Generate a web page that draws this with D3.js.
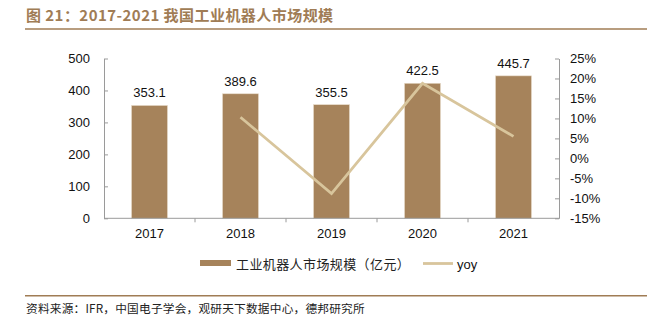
<!DOCTYPE html>
<html><head><meta charset="utf-8">
<script src="https://cdn.jsdelivr.net/npm/d3@7"></script>
<style>
html,body{margin:0;padding:0;background:#fff;}
svg{display:block;font-family:"Liberation Sans",Arial,sans-serif;}
</style></head>
<body>
<svg id="c" width="658" height="326"></svg>
<script>
const years = ["2017","2018","2019","2020","2021"];
const marketSize = [353.1, 389.6, 355.5, 422.5, 445.7];
const yoyYears = ["2018","2019","2020","2021"];
const yoyValues = [10.3, -8.8, 18.8, 5.5];
const leftTicks = [0,100,200,300,400,500];
const rightTicks = [-15,-10,-5,0,5,10,15,20,25];
const titleText = "图 21：2017-2021 我国工业机器人市场规模";
const legendBar = "工业机器人市场规模（亿元）";
const legendLine = "yoy";
const sourceText = "资料来源：IFR，中国电子学会，观研天下数据中心，德邦研究所";

(function(){
const svg = d3.select("#c");
const barColor = "#a6835b", lineColor = "#d8c59c", titleColor = "#a07c55", axisColor = "#9a9a9a";
const pL = 104, pR = 559, pT = 58.5, pB = 218.3;

// title
svg.append("text").attr("x",26).attr("y",21).attr("fill",titleColor)
  .attr("font-family","'Noto Sans CJK SC','Liberation Sans',sans-serif")
  .attr("font-weight","bold").attr("font-size",15).attr("letter-spacing",0.45).text(titleText);
svg.append("line").attr("x1",25).attr("x2",647).attr("y1",29).attr("y2",29)
  .attr("stroke",titleColor).attr("stroke-width",1.6);

const xb = d3.scaleBand().domain(years).range([pL,pR]);
const y = d3.scaleLinear().domain([0,500]).range([pB,pT]);
const y2 = d3.scaleLinear().domain([-15,25]).range([pB,pT]);

// bars
svg.append("g").selectAll("rect").data(marketSize).join("rect")
  .attr("x",(d,i)=>xb(years[i])+xb.bandwidth()/2-18)
  .attr("width",36)
  .attr("y",d=>y(d)).attr("height",d=>pB-y(d))
  .attr("fill",barColor).attr("stroke","#e8dccb").attr("stroke-width",0.6);

// bar labels
svg.append("g").selectAll("text").data(marketSize).join("text")
  .attr("x",(d,i)=>xb(years[i])+xb.bandwidth()/2)
  .attr("y",d=>y(d)-8).attr("text-anchor","middle")
  .attr("font-size",13).attr("fill","#111").text(d=>d.toFixed(1));

// left axis
const gl = svg.append("g").attr("transform",`translate(${pL},0)`)
  .call(d3.axisLeft(y).tickValues(leftTicks).tickSizeInner(-4).tickSizeOuter(0).tickPadding(14));
gl.select(".domain").attr("stroke",axisColor);
gl.selectAll(".tick line").attr("stroke",axisColor);
gl.selectAll("text").attr("font-size",13).attr("fill","#111").attr("font-family","'Liberation Sans',Arial,sans-serif");

// right axis
const gr = svg.append("g").attr("transform",`translate(${pR},0)`)
  .call(d3.axisRight(y2).tickValues(rightTicks).tickFormat(d=>d+"%").tickSizeInner(-4).tickSizeOuter(0).tickPadding(11));
gr.select(".domain").attr("stroke",axisColor);
gr.selectAll(".tick line").attr("stroke",axisColor);
gr.selectAll("text").attr("font-size",13).attr("fill","#111").attr("font-family","'Liberation Sans',Arial,sans-serif");

// bottom axis
svg.append("line").attr("x1",pL).attr("x2",pR).attr("y1",pB).attr("y2",pB).attr("stroke",axisColor);
const bt = years.slice(1).map(yy=>xb(yy));
svg.append("g").selectAll("line").data(bt).join("line")
  .attr("x1",d=>d).attr("x2",d=>d).attr("y1",pB).attr("y2",pB+4).attr("stroke",axisColor);
svg.append("g").selectAll("text").data(years).join("text")
  .attr("x",d=>xb(d)+xb.bandwidth()/2).attr("y",pB+20).attr("text-anchor","middle")
  .attr("font-size",13).attr("fill","#111").text(d=>d);

// yoy line
const line = d3.line().x((d,i)=>xb(yoyYears[i])+xb.bandwidth()/2).y(d=>y2(d));
svg.append("path").datum(yoyValues).attr("d",line).attr("fill","none")
  .attr("stroke",lineColor).attr("stroke-width",2.8);

// legend
svg.append("rect").attr("x",200).attr("y",260).attr("width",31).attr("height",6).attr("fill",barColor);
svg.append("text").attr("x",236).attr("y",268.5).attr("font-size",13).attr("letter-spacing",0.4).attr("fill","#222")
  .attr("font-family","'Noto Sans CJK SC',sans-serif").text(legendBar);
svg.append("line").attr("x1",423).attr("x2",453).attr("y1",263.5).attr("y2",263.5).attr("stroke",lineColor).attr("stroke-width",2.8);
svg.append("text").attr("x",457).attr("y",268.5).attr("font-size",13).attr("fill","#111").text(legendLine);

// footer
svg.append("line").attr("x1",25).attr("x2",647).attr("y1",295.7).attr("y2",295.7)
  .attr("stroke",titleColor).attr("stroke-width",1.6);
svg.append("text").attr("x",26).attr("y",313).attr("font-size",11.7).attr("letter-spacing",0.2).attr("fill","#222")
  .attr("font-family","'Noto Sans CJK SC',sans-serif").text(sourceText);
})();
</script>
</body></html>
